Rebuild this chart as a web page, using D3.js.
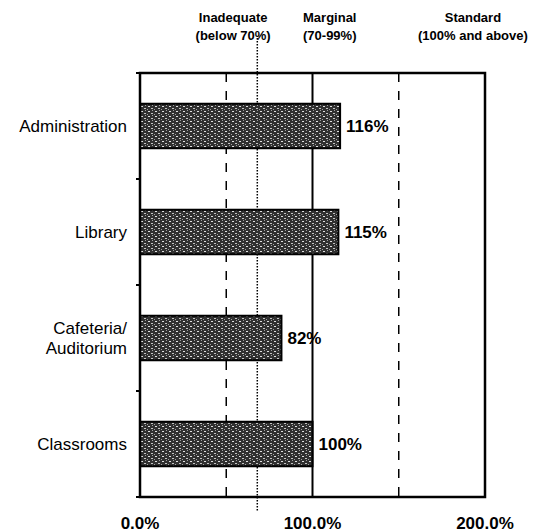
<!DOCTYPE html>
<html>
<head>
<meta charset="utf-8">
<script src="https://cdn.jsdelivr.net/npm/d3@7"></script>
<style>
  body { margin: 0; background: #fff; }
  text { font-family: Arial, "Liberation Sans", sans-serif; fill: #000; }
</style>
</head>
<body>
<div id="chart"></div>
<script>
// categories top to bottom
var categories = ["Administration", "Library", "Cafeteria/ Auditorium", "Classrooms"];
var values = [116, 115, 82, 100];
var xTicks = [0, 100, 200];
var dashedLines = [50, 150];
var solidLines = [100];
var thresholdLine = 68;
var headerLabels = [
  { at: 54, lines: ["Inadequate", "(below 70%)"] },
  { at: 110, lines: ["Marginal", "(70-99%)"] },
  { at: 193, lines: ["Standard", "(100% and above)"] }
];

var width = 540, height = 532;
var margin = { top: 73, right: 55, bottom: 35, left: 140 };

var svg = d3.select("#chart").append("svg")
  .attr("width", width)
  .attr("height", height);

// stipple pattern for bars
var defs = svg.append("defs");
var pat = defs.append("pattern")
  .attr("id", "stip")
  .attr("patternUnits", "userSpaceOnUse")
  .attr("width", 7).attr("height", 5);
pat.append("rect").attr("width", 7).attr("height", 5).attr("fill", "#303030");
pat.append("rect").attr("x", 1).attr("y", 1).attr("width", 2).attr("height", 1).attr("fill", "#e0e0e0");
pat.append("rect").attr("x", 4).attr("y", 3).attr("width", 2).attr("height", 1).attr("fill", "#c4c4c4");
pat.append("rect").attr("x", 5).attr("y", 0).attr("width", 1).attr("height", 1).attr("fill", "#a0a0a0");
pat.append("rect").attr("x", 0).attr("y", 4).attr("width", 1).attr("height", 1).attr("fill", "#a0a0a0");

var x = d3.scaleLinear()
  .domain([0, 200])
  .range([margin.left, width - margin.right]);

var y0 = margin.top, y1 = 497;
var y = d3.scaleBand()
  .domain(categories)
  .range([y0, y1])
  .paddingInner(0.58)
  .paddingOuter(0.29);

// reference lines
svg.selectAll(".dash")
  .data(dashedLines).enter()
  .append("line")
  .attr("x1", function(d) { return x(d); })
  .attr("x2", function(d) { return x(d); })
  .attr("y1", y0).attr("y2", y1)
  .attr("stroke", "#000")
  .attr("stroke-width", 1.5)
  .attr("stroke-dasharray", "9,9");

svg.selectAll(".solid")
  .data(solidLines).enter()
  .append("line")
  .attr("x1", function(d) { return x(d); })
  .attr("x2", function(d) { return x(d); })
  .attr("y1", y0).attr("y2", y1)
  .attr("stroke", "#000")
  .attr("stroke-width", 2);

svg.append("line")
  .attr("x1", x(thresholdLine)).attr("x2", x(thresholdLine))
  .attr("y1", 38).attr("y2", 511)
  .attr("stroke", "#000")
  .attr("stroke-width", 1.5)
  .attr("stroke-dasharray", "1.5,1.5");

// bars
svg.selectAll(".bar")
  .data(values).enter()
  .append("rect")
  .attr("class", "bar")
  .attr("x", x(0))
  .attr("y", function(d, i) { return y(categories[i]); })
  .attr("width", function(d) { return x(d) - x(0); })
  .attr("height", y.bandwidth())
  .attr("fill", "url(#stip)")
  .attr("stroke", "#000")
  .attr("stroke-width", 2);

// value labels
svg.selectAll(".val")
  .data(values).enter()
  .append("text")
  .attr("x", function(d) { return x(d) + 6; })
  .attr("y", function(d, i) { return y(categories[i]) + y.bandwidth() / 2; })
  .attr("dy", "0.36em")
  .attr("font-size", 17)
  .attr("font-weight", "bold")
  .text(function(d) { return d + "%"; });

// frame
svg.append("rect")
  .attr("x", x(0)).attr("y", y0)
  .attr("width", x(200) - x(0))
  .attr("height", y1 - y0)
  .attr("fill", "none")
  .attr("stroke", "#000")
  .attr("stroke-width", 2.5);

// y ticks at category boundaries
var step = y.step();
var bounds = d3.range(categories.length + 1).map(function(i) { return y0 + i * step; });
svg.selectAll(".ytick")
  .data(bounds).enter()
  .append("line")
  .attr("x1", x(0) - 4).attr("x2", x(0))
  .attr("y1", function(d) { return d; })
  .attr("y2", function(d) { return d; })
  .attr("stroke", "#000")
  .attr("stroke-width", 2);

// category labels
svg.selectAll(".cat")
  .data(categories).enter()
  .append("text")
  .attr("text-anchor", "end")
  .attr("font-size", 17)
  .attr("x", x(0) - 13)
  .attr("y", function(d) { return y(d) + y.bandwidth() / 2; })
  .each(function(d) {
    var parts = d.indexOf("/ ") > -1 ? [d.split("/ ")[0] + "/", d.split("/ ")[1]] : [d];
    var t = d3.select(this);
    parts.forEach(function(p, j) {
      t.append("tspan")
        .attr("x", x(0) - 13)
        .attr("dy", j === 0 ? (0.36 - (parts.length - 1) * 0.6) + "em" : "1.2em")
        .text(p);
    });
  });

// x axis labels
svg.selectAll(".xlab")
  .data(xTicks).enter()
  .append("text")
  .attr("x", function(d) { return x(d); })
  .attr("y", 529)
  .attr("text-anchor", "middle")
  .attr("font-size", 17)
  .attr("font-weight", "bold")
  .text(function(d) { return d.toFixed(1) + "%"; });

// header labels
svg.selectAll(".head")
  .data(headerLabels).enter()
  .append("text")
  .attr("text-anchor", "middle")
  .attr("font-size", 13)
  .attr("font-weight", "bold")
  .each(function(d) {
    var t = d3.select(this);
    d.lines.forEach(function(l, j) {
      t.append("tspan")
        .attr("x", x(d.at))
        .attr("y", 22 + j * 18)
        .text(l);
    });
  });
</script>
</body>
</html>
